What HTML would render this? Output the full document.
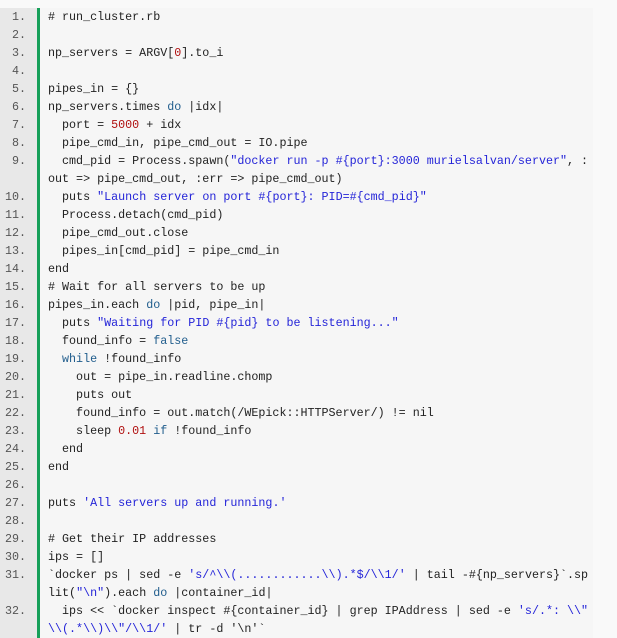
<!DOCTYPE html>
<html><head><meta charset="utf-8"><style>
html,body{margin:0;padding:0;background:#f9f9f9;width:617px;height:626px;overflow:hidden}
#wrap{position:absolute;left:0;top:8px;width:593px;background:#f6f6f6}
.r{height:18px;line-height:18px;white-space:pre;font-family:"Liberation Mono",monospace;font-size:11.7px;color:#222;position:relative}
.n{position:absolute;left:0;top:0;width:37px;height:18px;background:#e8e8e8;border-right:3px solid #17a05a;box-sizing:content-box;text-align:right;color:#555}
.n span{padding-right:11px}
.c{position:absolute;left:48px;top:0}
.s{color:#2424d8}.k{color:#1f5c8c}.m{color:#b01010}
</style></head><body><div id="wrap">
<div class="r"><div class="n"><span>1.</span></div><div class="c"># run_cluster.rb</div></div>
<div class="r"><div class="n"><span>2.</span></div><div class="c"></div></div>
<div class="r"><div class="n"><span>3.</span></div><div class="c">np_servers = ARGV[<span class="m">0</span>].to_i</div></div>
<div class="r"><div class="n"><span>4.</span></div><div class="c"></div></div>
<div class="r"><div class="n"><span>5.</span></div><div class="c">pipes_in = {}</div></div>
<div class="r"><div class="n"><span>6.</span></div><div class="c">np_servers.times <span class="k">do</span> |idx|</div></div>
<div class="r"><div class="n"><span>7.</span></div><div class="c">  port = <span class="m">5000</span> + idx</div></div>
<div class="r"><div class="n"><span>8.</span></div><div class="c">  pipe_cmd_in, pipe_cmd_out = IO.pipe</div></div>
<div class="r"><div class="n"><span>9.</span></div><div class="c">  cmd_pid = Process.spawn(<span class="s">"docker run -p #{port}:3000 murielsalvan/server"</span>, :</div></div>
<div class="r"><div class="n"><span></span></div><div class="c">out =&gt; pipe_cmd_out, :err =&gt; pipe_cmd_out)</div></div>
<div class="r"><div class="n"><span>10.</span></div><div class="c">  puts <span class="s">"Launch server on port #{port}: PID=#{cmd_pid}"</span></div></div>
<div class="r"><div class="n"><span>11.</span></div><div class="c">  Process.detach(cmd_pid)</div></div>
<div class="r"><div class="n"><span>12.</span></div><div class="c">  pipe_cmd_out.close</div></div>
<div class="r"><div class="n"><span>13.</span></div><div class="c">  pipes_in[cmd_pid] = pipe_cmd_in</div></div>
<div class="r"><div class="n"><span>14.</span></div><div class="c">end</div></div>
<div class="r"><div class="n"><span>15.</span></div><div class="c"># Wait for all servers to be up</div></div>
<div class="r"><div class="n"><span>16.</span></div><div class="c">pipes_in.each <span class="k">do</span> |pid, pipe_in|</div></div>
<div class="r"><div class="n"><span>17.</span></div><div class="c">  puts <span class="s">"Waiting for PID #{pid} to be listening..."</span></div></div>
<div class="r"><div class="n"><span>18.</span></div><div class="c">  found_info = <span class="k">false</span></div></div>
<div class="r"><div class="n"><span>19.</span></div><div class="c">  <span class="k">while</span> !found_info</div></div>
<div class="r"><div class="n"><span>20.</span></div><div class="c">    out = pipe_in.readline.chomp</div></div>
<div class="r"><div class="n"><span>21.</span></div><div class="c">    puts out</div></div>
<div class="r"><div class="n"><span>22.</span></div><div class="c">    found_info = out.match(/WEpick::HTTPServer/) != nil</div></div>
<div class="r"><div class="n"><span>23.</span></div><div class="c">    sleep <span class="m">0.01</span> <span class="k">if</span> !found_info</div></div>
<div class="r"><div class="n"><span>24.</span></div><div class="c">  end</div></div>
<div class="r"><div class="n"><span>25.</span></div><div class="c">end</div></div>
<div class="r"><div class="n"><span>26.</span></div><div class="c"></div></div>
<div class="r"><div class="n"><span>27.</span></div><div class="c">puts <span class="s">'All servers up and running.'</span></div></div>
<div class="r"><div class="n"><span>28.</span></div><div class="c"></div></div>
<div class="r"><div class="n"><span>29.</span></div><div class="c"># Get their IP addresses</div></div>
<div class="r"><div class="n"><span>30.</span></div><div class="c">ips = []</div></div>
<div class="r"><div class="n"><span>31.</span></div><div class="c">`docker ps | sed -e <span class="s">'s/^\\(............\\).*$/\\1/'</span> | tail -#{np_servers}`.sp</div></div>
<div class="r"><div class="n"><span></span></div><div class="c">lit(<span class="s">"\n"</span>).each <span class="k">do</span> |container_id|</div></div>
<div class="r"><div class="n"><span>32.</span></div><div class="c">  ips &lt;&lt; `docker inspect #{container_id} | grep IPAddress | sed -e <span class="s">'s/.*: \\"</span></div></div>
<div class="r"><div class="n"><span></span></div><div class="c"><span class="s">\\(.*\\)\\"/\\1/'</span> | tr -d '\n'`</div></div>
</div></body></html>
